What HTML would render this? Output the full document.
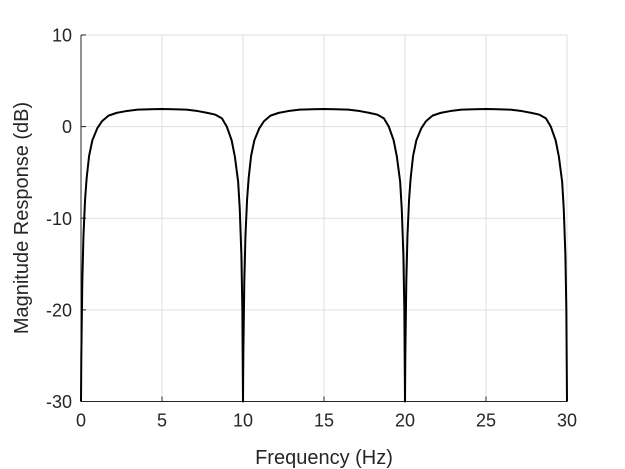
<!DOCTYPE html>
<html><head><meta charset="utf-8"><style>
html,body{margin:0;padding:0;background:#fff;}
svg{display:block;font-family:"Liberation Sans",sans-serif;}
</style></head><body>
<svg id="chart" width="625" height="469">
<rect x="0" y="0" width="625" height="469" fill="#fff"/>
<g id="grid"></g>
<g id="axes"></g>
<path id="curve" fill="none" stroke="#000" stroke-width="2" stroke-linejoin="round"/>
<text x="324" y="464" text-anchor="middle" font-size="20" fill="#262626">Frequency (Hz)</text>
<text transform="translate(28,218) rotate(-90)" text-anchor="middle" font-size="20" fill="#262626">Magnitude Response (dB)</text>
</svg>
<script>
const xTicks=[0,5,10,15,20,25,30];
const yTicks=[-30,-20,-10,0,10];
const freq=[0,0.02,0.08,0.15,0.25,0.35,0.5,0.7,1.0,1.3,1.7,2.2,2.8,3.5,4.3,5,5.7,6.5,7.2,7.8,8.3,8.7,9.0,9.3,9.5,9.7,9.8,9.9,9.96,10,
10.02,10.08,10.15,10.25,10.35,10.5,10.7,11.0,11.3,11.7,12.2,12.8,13.5,14.3,15,15.7,16.5,17.2,17.8,18.3,18.7,19.0,19.3,19.5,19.7,19.8,19.9,19.96,20,
20.02,20.08,20.15,20.25,20.35,20.5,20.7,21.0,21.3,21.7,22.2,22.8,23.5,24.3,25,25.7,26.5,27.2,27.8,28.3,28.7,29.0,29.3,29.5,29.7,29.8,29.9,29.96,30];
const magDb=[-30,-25,-17,-12,-8,-5.6,-3.2,-1.5,-0.2,0.6,1.2,1.5,1.7,1.85,1.9,1.93,1.9,1.85,1.7,1.5,1.3,0.9,0.0,-1.5,-3.3,-6,-9,-14,-20,-30,
-25,-17,-12,-8,-5.6,-3.2,-1.5,-0.2,0.6,1.2,1.5,1.7,1.85,1.9,1.93,1.9,1.85,1.7,1.5,1.3,0.9,0.0,-1.5,-3.3,-6,-9,-14,-20,-30,
-25,-17,-12,-8,-5.6,-3.2,-1.5,-0.2,0.6,1.2,1.5,1.7,1.85,1.9,1.93,1.9,1.85,1.7,1.5,1.3,0.9,0.0,-1.5,-3.3,-6,-9,-14,-20,-30];
const L=81,R=567,T=35,B=401.5,xMin=0,xMax=30,yMin=-30,yMax=10;
const sx=v=>L+(v-xMin)/(xMax-xMin)*(R-L);
const sy=v=>B-(v-yMin)/(yMax-yMin)*(B-T);
const NS='http://www.w3.org/2000/svg';
const grid=document.getElementById('grid'),axes=document.getElementById('axes');
function mk(tag,attrs,parent){const e=document.createElementNS(NS,tag);for(const k in attrs)e.setAttribute(k,attrs[k]);parent.appendChild(e);return e;}
xTicks.forEach(t=>{
  const g=mk('line',{x1:sx(t),x2:sx(t),y1:T,y2:B,stroke:'#dfdfdf','stroke-width':1},grid);
  
  
  const tk=mk('line',{x1:sx(t),x2:sx(t),y1:B,y2:B-5,stroke:'#262626','stroke-width':1},axes);
  
  
  const lb=mk('text',{x:sx(t),y:B+25,'text-anchor':'middle','font-size':18,fill:'#262626'},axes);
  lb.textContent=t;
  
  
});
yTicks.forEach(t=>{
  const g=mk('line',{x1:L,x2:R,y1:sy(t),y2:sy(t),stroke:'#dfdfdf','stroke-width':1},grid);
  
  
  const tk=mk('line',{x1:L,x2:L+5,y1:sy(t),y2:sy(t),stroke:'#262626','stroke-width':1},axes);
  
  
  const lb=mk('text',{x:L-9,y:sy(t)+6.5,'text-anchor':'end','font-size':18,fill:'#262626'},axes);
  lb.textContent=t;
  
  
});
const xa=mk('line',{x1:L,x2:R,y1:B,y2:B,stroke:'#262626','stroke-width':1},axes);


const ya=mk('line',{x1:L,x2:L,y1:T,y2:B,stroke:'#262626','stroke-width':1},axes);


document.getElementById('curve').setAttribute('d',freq.map((f,i)=>(i?'L':'M')+sx(f).toFixed(2)+' '+sy(magDb[i]).toFixed(2)).join(' '));
</script>
</body></html>
